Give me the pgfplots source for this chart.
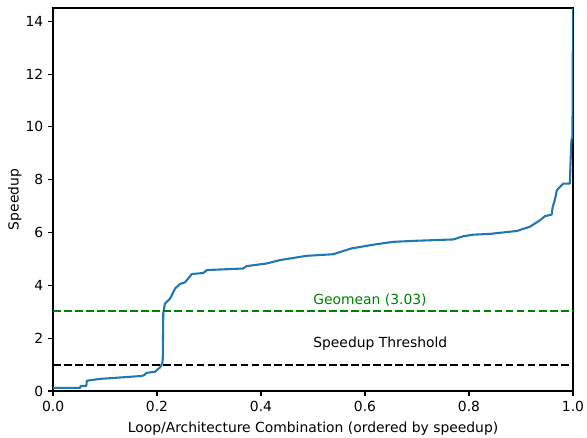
\documentclass[border=0pt]{standalone}
\usepackage{pgfplots}
\pgfplotsset{compat=1.18}
\usepackage{fontspec}
\setmainfont{DejaVu Sans}
\definecolor{c0}{HTML}{1F77B4}
\definecolor{mgreen}{HTML}{008000}
\begin{document}
\begin{tikzpicture}
\path[use as bounding box] (-38.2pt,-33.8pt) rectangle (384.5pt,281.6pt);
\begin{axis}[
  scale only axis,
  width=374.4pt, height=275.8pt,
  xmin=0, xmax=1, ymin=0, ymax=14.5,
  xtick={0,0.2,0.4,0.6,0.8,1.0},
  xticklabels={0.0,0.2,0.4,0.6,0.8,1.0},
  ytick={0,2,4,6,8,10,12,14},
  tick align=outside, xtick pos=left, ytick pos=left,
  major tick length=3.5pt,
  every tick/.style={black, line width=0.8pt},
  axis line style={line width=0.8pt},
  /pgf/number format/assume math mode=true,
  tick label style={font=\fontsize{10}{12}\selectfont},
  label style={font=\fontsize{10}{12}\selectfont},
  xlabel={Loop/Architecture Combination (ordered by speedup)},
  ylabel={Speedup},
  xlabel style={yshift=-1pt},
  ylabel style={yshift=-4pt},
  clip=true,
]
\addplot[c0, line width=1.5pt, line join=round] coordinates {
(0,0.12) (0.052,0.12) (0.053,0.19) (0.064,0.19) (0.065,0.39) (0.09,0.46)
(0.17,0.57) (0.175,0.6) (0.18,0.69) (0.196,0.73) (0.206,0.9) (0.21,1.05)
(0.211,1.2) (0.212,2.94) (0.215,3.3) (0.225,3.5) (0.235,3.89) (0.244,4.05)
(0.254,4.12) (0.267,4.43) (0.289,4.47) (0.296,4.58) (0.366,4.64) (0.372,4.73)
(0.411,4.83) (0.437,4.96) (0.488,5.12) (0.539,5.18) (0.574,5.4) (0.622,5.56)
(0.655,5.65) (0.699,5.69) (0.77,5.74) (0.789,5.86) (0.808,5.92) (0.84,5.95)
(0.892,6.06) (0.917,6.22) (0.937,6.47) (0.946,6.62) (0.959,6.68) (0.961,6.97)
(0.965,7.23) (0.969,7.6) (0.972,7.67) (0.981,7.85) (0.994,7.85) (0.995,8.48)
(0.997,9.5) (0.999,9.62) (1.0,14.6)
};
\addplot[black, line width=1.5pt, dash pattern=on 5.55pt off 2.4pt] coordinates {(0,1) (1,1)};
\addplot[mgreen, line width=1.5pt, dash pattern=on 5.55pt off 2.4pt] coordinates {(0,3.03) (1,3.03)};
\node[anchor=west, inner sep=0pt, text=mgreen, font=\fontsize{10}{12}\selectfont] at (axis cs:0.5,3.44) {Geomean (3.03)};
\node[anchor=west, inner sep=0pt, font=\fontsize{10}{12}\selectfont] at (axis cs:0.5,1.78) {Speedup Threshold};
\end{axis}
\end{tikzpicture}
\end{document}
